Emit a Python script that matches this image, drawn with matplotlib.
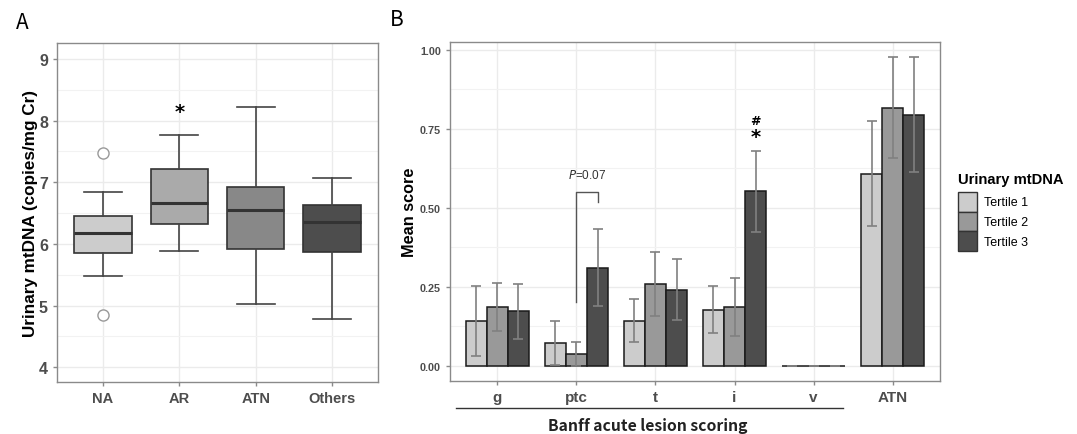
import numpy as np
import matplotlib
matplotlib.use("Agg")
import matplotlib.pyplot as plt
from matplotlib.patches import Patch
from matplotlib.ticker import MultipleLocator

# Panel A: urinary mtDNA by diagnosis (box stats)
groups = ["NA", "AR", "ATN", "Others"]
med = [6.18, 6.67, 6.55, 6.35]
q1 = [5.86, 6.33, 5.92, 5.87]
q3 = [6.46, 7.22, 6.92, 6.63]
whislo = [5.48, 5.89, 5.03, 4.78]
whishi = [6.84, 7.77, 8.22, 7.07]
fliers = [[7.47, 4.84], [], [], []]
box_colors = ["#cccccc", "#aaaaaa", "#888888", "#4d4d4d"]

# Panel B: Banff scores by tertile
lesions = ["g", "ptc", "t", "i", "v", "ATN"]
tertiles = ["Tertile 1", "Tertile 2", "Tertile 3"]
mean_t1 = [0.143, 0.073, 0.143, 0.178, 0.0, 0.608]
mean_t2 = [0.185, 0.037, 0.258, 0.185, 0.0, 0.816]
mean_t3 = [0.173, 0.311, 0.240, 0.552, 0.0, 0.794]
lo_t1 = [0.031, 0.003, 0.076, 0.105, 0.0, 0.443]
hi_t1 = [0.254, 0.142, 0.210, 0.252, 0.0, 0.775]
lo_t2 = [0.109, 0.000, 0.158, 0.093, 0.0, 0.657]
hi_t2 = [0.261, 0.075, 0.360, 0.278, 0.0, 0.976]
lo_t3 = [0.085, 0.189, 0.146, 0.425, 0.0, 0.612]
hi_t3 = [0.258, 0.433, 0.337, 0.680, 0.0, 0.976]
bar_colors = ["#cccccc", "#999999", "#4d4d4d"]

W, H = 1077, 435
fig = plt.figure(figsize=(W / 100, H / 100), dpi=100)

def px_axes(l, t, r, b):
    return fig.add_axes([l / W, 1 - b / H, (r - l) / W, (b - t) / H])

tick_font = dict(family="Liberation Sans", weight="bold", color="#4d4d4d")
grid_c = "#ebebeb"
spine_c = "#8a8a8a"

def style(ax):
    for s in ax.spines.values():
        s.set_color(spine_c)
        s.set_linewidth(1.0)
    ax.tick_params(length=3, width=1, color=spine_c, which="major")
    ax.tick_params(which="minor", length=0)
    ax.grid(True, which="major", color=grid_c, lw=1.0, zorder=0)
    ax.grid(True, which="minor", axis="y", color="#f2f2f2", lw=0.8, zorder=0)
    ax.set_axisbelow(True)

# ---- A ----
axA = px_axes(57, 44, 378, 383)
stats = []
for i in range(len(groups)):
    stats.append(dict(med=med[i], q1=q1[i], q3=q3[i], whislo=whislo[i],
                      whishi=whishi[i], fliers=fliers[i]))
bp = axA.bxp(stats, positions=range(len(groups)), widths=0.75, capwidths=0.5,
             patch_artist=True,
             boxprops=dict(edgecolor="#333333", lw=1.2),
             medianprops=dict(color="#333333", lw=2.2),
             whiskerprops=dict(color="#444444", lw=1.2),
             capprops=dict(color="#444444", lw=1.2),
             flierprops=dict(marker="o", markerfacecolor="white",
                             markeredgecolor="#999999", markersize=8, mew=1))
for patch, c in zip(bp["boxes"], box_colors):
    patch.set_facecolor(c)
axA.set_xlim(-0.6, 3.6)
axA.set_ylim(3.76, 9.26)
axA.yaxis.set_major_locator(MultipleLocator(1))
axA.yaxis.set_minor_locator(MultipleLocator(0.5))
axA.set_xticks(range(len(groups)))
axA.set_xticklabels(groups, fontsize=10.5, **tick_font)
for lab in axA.get_yticklabels():
    lab.set_fontsize(11.5)
    lab.set(**tick_font)
style(axA)
axA.set_ylabel("Urinary mtDNA (copies/mg Cr)", fontsize=12.3, family="Liberation Sans",
               weight="bold", labelpad=1)
axA.text(1, 8.15, "*", ha="center", va="center", fontsize=14, weight="bold")

# ---- B ----
axB = px_axes(450, 43.3, 940, 382.3)
x = np.arange(len(lesions))
bw = 0.8 / 3
means = [mean_t1, mean_t2, mean_t3]
los = [lo_t1, lo_t2, lo_t3]
his = [hi_t1, hi_t2, hi_t3]
for k in range(3):
    xs = x + (k - 1) * bw
    m = np.array(means[k])
    axB.bar(xs, m, width=bw, color=bar_colors[k], edgecolor="#1a1a1a", lw=1.1, zorder=2)
    err = [m - np.array(los[k]), np.array(his[k]) - m]
    axB.errorbar(xs, m, yerr=err, fmt="none", ecolor="#808080", elinewidth=1.2,
                 capsize=3.6, capthick=1.2, zorder=3)
axB.set_xlim(-0.6, 5.6)
axB.set_ylim(-0.049, 1.024)
axB.yaxis.set_major_locator(MultipleLocator(0.25))
axB.yaxis.set_minor_locator(MultipleLocator(0.125))
axB.set_yticks([0, 0.25, 0.5, 0.75, 1.0])
axB.set_yticklabels(["0.00", "0.25", "0.50", "0.75", "1.00"], fontsize=7.8, **tick_font)
axB.set_xticks(x)
axB.set_xticklabels(lesions, fontsize=11, **tick_font)
style(axB)
axB.set_ylabel("Mean score", fontsize=11.7, family="Liberation Sans", weight="bold", labelpad=2)

# P=0.07 bracket over ptc tertile 2 vs 3
bx1, bx2 = 1, 1 + bw
axB.plot([bx1, bx1, bx2, bx2], [0.203, 0.549, 0.549, 0.517], color="#555555", lw=1.0, zorder=4)
axB.text(1.14, 0.604, r"$\it{P}$=0.07", ha="center", va="center", fontsize=8.5,
         family="Liberation Sans", color="#333333")
# significance marks over i tertile 3
axB.text(3 + bw, 0.778, "#", ha="center", va="center", fontsize=9, weight="bold")
axB.text(3 + bw, 0.727, "*", ha="center", va="center", fontsize=14, weight="bold")

# underline and label for Banff lesions
trans = axB.get_xaxis_transform()
axB.plot([-0.53, 4.37], [-0.079, -0.079], color="#333333", lw=1.0, transform=trans,
         clip_on=False)
axB.text(1.9, -0.128, "Banff acute lesion scoring", transform=trans, ha="center",
         va="center", fontsize=11.3, weight="bold",
         family=["Noto Sans CJK KR", "DejaVu Sans"], color="#222222")

# legend
handles = [Patch(facecolor=c, edgecolor="#333333", lw=1.0) for c in bar_colors]
leg = fig.legend(handles, tertiles, loc="upper left", bbox_to_anchor=(958 / W, 1 - 173 / H),
                 frameon=False, prop=dict(family="Liberation Sans", size=9),
                 title="Urinary mtDNA", handlelength=1.52, handleheight=2.08,
                 labelspacing=0.0, handletextpad=0.6, alignment="left",
                 borderaxespad=0, borderpad=0)
leg.get_title().set_fontproperties(dict(family="Liberation Sans", weight="bold", size=10.6))
leg._legend_box.sep = 4

# panel letters
fig.text(22 / W, 1 - 23 / H, "A", ha="center", va="center", fontsize=15,
         family=["Noto Sans CJK KR", "DejaVu Sans"], weight="light")
fig.text(397 / W, 1 - 20 / H, "B", ha="center", va="center", fontsize=15,
         family=["Noto Sans CJK KR", "DejaVu Sans"], weight="light")

fig.savefig("out.png", dpi=100)
